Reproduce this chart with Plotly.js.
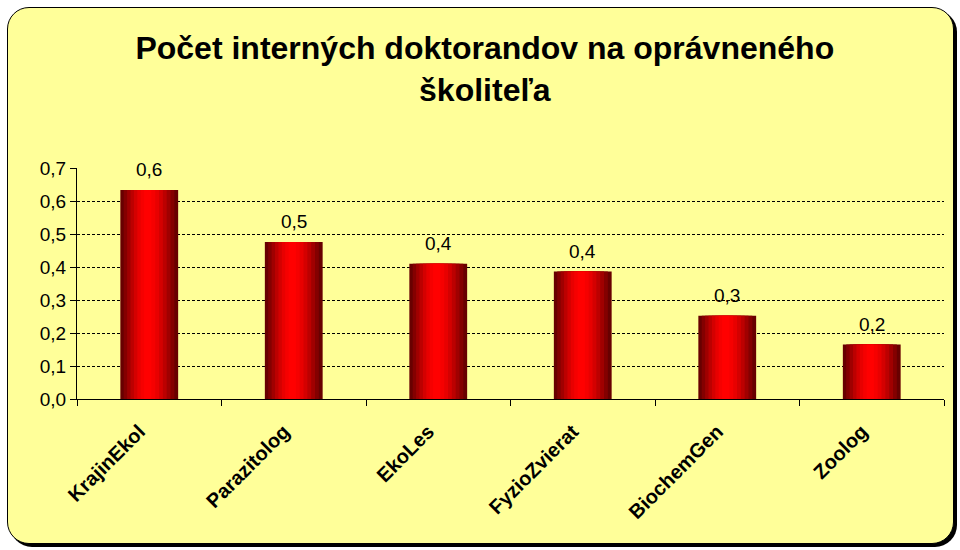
<!DOCTYPE html>
<html>
<head>
<meta charset="utf-8">
<script src="https://cdn.plot.ly/plotly-3.0.1.min.js"></script>
<style>
  html, body { margin: 0; padding: 0; background: #ffffff; }
  #wrap { position: relative; width: 960px; height: 550px; overflow: hidden; }
  #bg { position: absolute; left: 7px; top: 7px; width: 945px; height: 535px;
        background: #FFFF99; border: 1.5px solid #000; border-radius: 22px;
        box-shadow: 3px 3px 0 #000; }
  #chart { position: absolute; left: 0; top: 0; width: 960px; height: 550px; }
</style>
</head>
<body>
<div id="wrap"><div id="bg"></div><div id="chart"></div></div>
<script>
const categories = ["KrajinEkol", "Parazitolog", "EkoLes", "FyzioZvierat", "BiochemGen", "Zoolog"];
const values = [0.633, 0.476, 0.41, 0.386, 0.252, 0.165];
const yTickVals = [0, 0.1, 0.2, 0.3, 0.4, 0.5, 0.6, 0.7];

const FONT = "Arial, 'Liberation Sans', sans-serif";

// gradient approximation: overlaid bars of decreasing width
const shades = ["#680000", "#840000", "#a00000", "#bc0000", "#d40000", "#e80000", "#f60000", "#ff0000"];
const baseWidth = 0.4;
const traces = shades.map((c, i) => {
  const w = baseWidth * (1 - i / shades.length);
  return {
    type: "bar",
    x: categories,
    y: values,
    width: w,
    offset: -w / 2 - 0.012 * (i / shades.length),
    marker: { color: c, line: { width: 0 } },
    hoverinfo: "skip",
    showlegend: false
  };
});

const annotations = categories.map((c, i) => ({
  x: c, y: values[i], xref: "x", yref: "y",
  text: values[i].toFixed(1).replace(".", ","),
  showarrow: false, yanchor: "bottom", yshift: 8,
  font: { family: FONT, size: 19, color: "#000" }
}));

const layout = {
  width: 960, height: 550,
  paper_bgcolor: "rgba(0,0,0,0)",
  plot_bgcolor: "rgba(0,0,0,0)",
  separators: ", ",
  barmode: "overlay",
  margin: { l: 77, r: 16, t: 168, b: 151 },
  font: { family: FONT, color: "#000" },
  title: {
    text: "<b>Počet interných doktorandov na oprávneného<br>školiteľa</b>",
    font: { family: FONT, size: 32, color: "#000" },
    x: 0.505, xanchor: "center", y: 0.892, yanchor: "top"
  },
  xaxis: {
    type: "category",
    tickangle: -45,
    tickfont: { size: 20, family: FONT, weight: "bold" },
    ticks: "outside", ticklen: 6, tickcolor: "#000",
    tickson: "boundaries",
    ticklabelstandoff: 12,
    ticklabelshift: -10,
    showline: true, linecolor: "#000", linewidth: 1,
    showgrid: false
  },
  yaxis: {
    range: [0, 0.7],
    tickvals: yTickVals,
    tickformat: ".1f",
    tickfont: { size: 19 },
    ticks: "outside", ticklen: 6, tickcolor: "#000",
    showline: true, linecolor: "#000", linewidth: 1,
    showgrid: true, gridcolor: "#000", gridwidth: 1, griddash: "3px,2px",
    zeroline: false
  },
  annotations: annotations
};

Plotly.newPlot("chart", traces, layout, { displayModeBar: false, staticPlot: true });
</script>
</body>
</html>
